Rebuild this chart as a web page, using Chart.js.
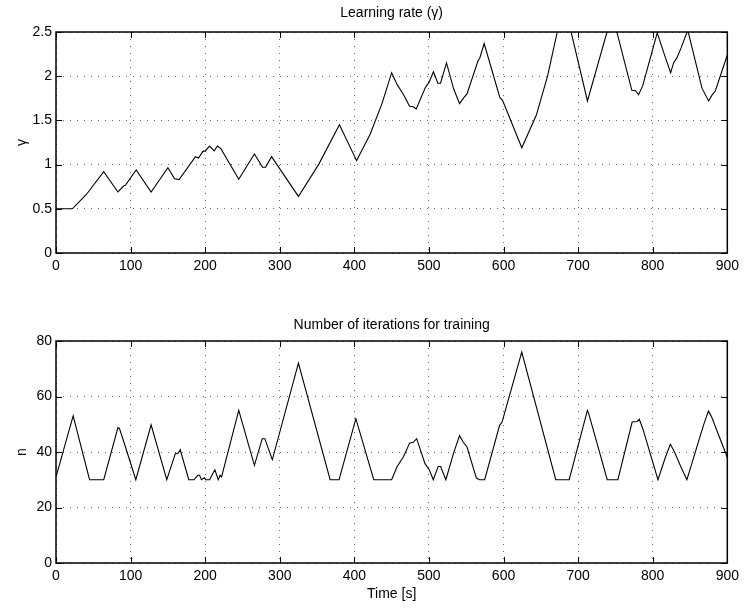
<!DOCTYPE html>
<html>
<head>
<meta charset="utf-8">
<title>Learning rate and iterations</title>
<script src="https://cdn.jsdelivr.net/npm/chart.js@4.4.1/dist/chart.umd.min.js"></script>
<style>
  body { margin: 0; background: #fff; }
  #gammaChart { position: absolute; left: 0; top: 0; }
  #iterChart { position: absolute; left: 0; top: 300px; }
</style>
</head>
<body>
<canvas id="gammaChart" width="744" height="300"></canvas>
<canvas id="iterChart" width="744" height="308"></canvas>
<script>
// learning rate gamma over time
const gammaTime = [0, 22, 41, 64, 83, 91, 93, 107.5, 127.5, 150, 159, 165, 187, 191, 197, 200, 206, 212, 216.5, 221,
    245, 266, 277, 281, 289, 325, 352, 380, 403, 421, 437, 450, 457, 466, 474, 479, 483, 495, 500, 506, 512, 515.5,
    523.5, 533, 541, 547, 551, 566, 568, 574, 595, 598.5, 624.5, 644, 659, 672, 681, 712.5, 738.7, 745.5, 772, 777,
    781, 786.5, 806, 817, 824, 828, 832.5, 838, 847, 866, 875, 879, 884, 900];
const gammaValue = [0.5, 0.5, 0.665, 0.92, 0.69, 0.76, 0.765, 0.94, 0.69, 0.965, 0.84, 0.83, 1.09, 1.075, 1.15, 1.155, 1.21, 1.155, 1.21, 1.18,
    0.835, 1.12, 0.97, 0.97, 1.09, 0.64, 1.0, 1.45, 1.045, 1.34, 1.69, 2.04, 1.91, 1.79, 1.66, 1.655, 1.63, 1.87, 1.93, 2.05, 1.92, 1.92,
    2.15, 1.86, 1.69, 1.76, 1.80, 2.18, 2.2, 2.37, 1.76, 1.73, 1.19, 1.56, 2.0, 2.5, 2.84, 1.72, 2.5, 2.71, 1.84, 1.835,
    1.79, 1.89, 2.49, 2.21, 2.04, 2.15, 2.21, 2.32, 2.52, 1.865, 1.72, 1.78, 1.835, 2.24];

// number of training iterations over time
const iterTime = [0, 23, 45, 64, 83, 85, 91, 107, 127.5, 148.5, 160, 164, 166.5, 178, 185, 190, 192.5, 195, 199, 201, 206,
    210, 213, 217.5, 220, 222, 245, 266, 276.5, 280, 290, 325, 367.5, 379.5, 402, 426, 450, 457, 466, 474, 479, 483.5,
    494.7, 500.4, 505.8, 512.4, 515.6, 522.7, 533, 541, 545.8, 551, 563.6, 568, 574.7, 594.7, 598, 624.4, 670, 688,
    712.4, 714, 739, 753.3, 772.4, 779, 782, 786.7, 807, 816.9, 823.6, 828, 832.4, 837.8, 845.8, 868, 874.7, 879, 900];
const iterValue = [31, 53, 30, 30, 48.8, 48.5, 43.6, 30, 49.8, 30, 39.4, 39.6, 40.8, 30, 30, 31.6, 31.6, 30, 30.7, 30, 30,
    32.2, 33.6, 30, 31.6, 31, 55, 35.2, 44.8, 44.8, 37.2, 72, 30, 30, 52, 30, 30, 34.6, 38.4, 43.2, 43.5, 44.8,
    35.8, 33.6, 30, 34.8, 34.8, 30, 39.6, 45.9, 43.6, 41.8, 30.6, 30, 30, 49.6, 50.8, 76, 30, 30,
    55, 54, 30, 30, 50.8, 51, 51.8, 48.4, 30, 38, 42.8, 40.6, 38, 34.6, 30, 49.6, 54.8, 52.6, 38];

const timeTicks = { min: 0, max: 900, step: 100 };

Chart.defaults.font.family = '"Liberation Sans", Arial, Helvetica, sans-serif';
Chart.defaults.font.size = 14;
Chart.defaults.color = '#000';

// box round the plot area with inward tick marks on all four sides
const boxTicks = {
    id: 'boxTicks',
    afterDatasetsDraw(chart) {
        const { ctx, chartArea: a, scales } = chart;
        const len = 6;
        ctx.save();
        ctx.strokeStyle = '#000';
        ctx.lineWidth = 1;
        ctx.beginPath();
        scales.x.ticks.forEach(t => {
            const px = Math.round(scales.x.getPixelForValue(t.value)) + 0.5;
            ctx.moveTo(px, a.bottom); ctx.lineTo(px, a.bottom - len);
            ctx.moveTo(px, a.top); ctx.lineTo(px, a.top + len);
        });
        scales.y.ticks.forEach(t => {
            const py = Math.round(scales.y.getPixelForValue(t.value)) + 0.5;
            ctx.moveTo(a.left, py); ctx.lineTo(a.left + len, py);
            ctx.moveTo(a.right, py); ctx.lineTo(a.right - len, py);
        });
        ctx.stroke();
        ctx.lineWidth = 1.5;
        ctx.strokeRect(a.left, a.top, a.right - a.left, a.bottom - a.top);
        ctx.restore();
    }
};

function makePlot(id, xs, ys, opts) {
    const points = xs.map((x, i) => ({ x: x, y: ys[i] }));
    return new Chart(document.getElementById(id), {
        type: 'line',
        data: {
            datasets: [{
                data: points,
                borderColor: '#000',
                borderWidth: 1.1,
                pointRadius: 0,
                tension: 0,
                fill: false
            }]
        },
        options: {
            responsive: false,
            animation: false,
            events: [],
            layout: { padding: { left: 0, right: 13, top: 0, bottom: 0 } },
            plugins: {
                legend: { display: false },
                tooltip: { enabled: false },
                title: {
                    display: true,
                    text: opts.title,
                    fullSize: false,
                    font: { size: 14, weight: 'normal' },
                    padding: opts.titlePad
                }
            },
            scales: {
                x: {
                    type: 'linear',
                    min: timeTicks.min,
                    max: timeTicks.max,
                    grid: { color: 'rgba(0,0,0,0.6)', lineWidth: 1, drawTicks: false },
                    border: { display: false, dash: [1, 6] },
                    ticks: { stepSize: timeTicks.step, padding: 5, maxRotation: 0, autoSkip: false },
                    title: {
                        display: !!opts.xTitle,
                        text: opts.xTitle || '',
                        font: { size: 14 },
                        padding: { top: 0, bottom: 5.6 }
                    },
                    afterFit(scale) { scale.height = opts.xHeight; }
                },
                y: {
                    min: opts.yMin,
                    max: opts.yMax,
                    grid: { color: 'rgba(0,0,0,0.6)', lineWidth: 1, drawTicks: false },
                    border: { display: false, dash: [1, 6] },
                    ticks: {
                        stepSize: opts.yStep,
                        padding: 4,
                        callback: v => String(+v.toFixed(2))
                    },
                    title: {
                        display: true,
                        text: opts.yTitle,
                        font: { size: 14 },
                        padding: { top: 13.6, bottom: 0 }
                    },
                    afterFit(scale) { scale.width = 56; }
                }
            }
        },
        plugins: [boxTicks]
    });
}

makePlot('gammaChart', gammaTime, gammaValue, {
    title: 'Learning rate (γ)',
    titlePad: { top: 4.6, bottom: 10.6 },
    yTitle: 'γ',
    yMin: 0, yMax: 2.5, yStep: 0.5,
    xHeight: 47
});

makePlot('iterChart', iterTime, iterValue, {
    title: 'Number of iterations for training',
    titlePad: { top: 16.6, bottom: 7.6 },
    yTitle: 'n',
    xTitle: 'Time [s]',
    yMin: 0, yMax: 80, yStep: 20,
    xHeight: 45
});
</script>
</body>
</html>
